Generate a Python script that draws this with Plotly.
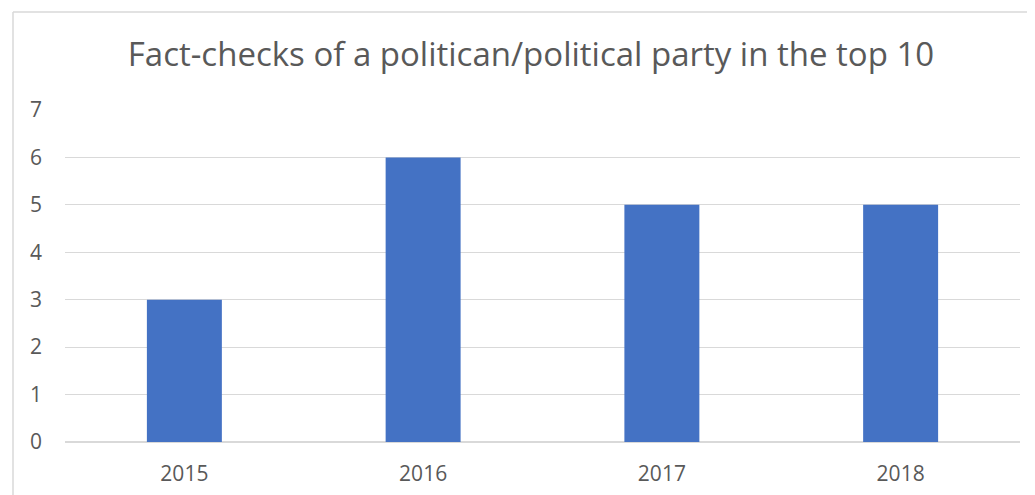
import plotly.graph_objects as go

years = ["2015", "2016", "2017", "2018"]
counts = [3, 6, 5, 5]
title_text = "Fact-checks of a politican/political party in the top 10"

fig = go.Figure(go.Bar(x=years, y=counts, marker=dict(color="#4472C4", line=dict(width=0))))

L, T, W, H = 57, 102, 955, 332
fig.update_layout(
    width=1035, height=495,
    margin=dict(l=L, r=1035 - L - W, t=T, b=495 - T - H, autoexpand=False),
    paper_bgcolor="white", plot_bgcolor="white",
    bargap=0.686,
    showlegend=False,
    title=dict(text=title_text, x=523/1035, xanchor="center", y=1-46/495, yanchor="middle",
               font=dict(family="Open Sans", size=33, color="#595959")),
    font=dict(family="Open Sans", color="#595959"),
    xaxis=dict(showgrid=False, zeroline=False, showline=False, ticks="",
               tickfont=dict(size=21, color="#595959"), ticklabelstandoff=17),
    yaxis=dict(range=[0, 7], dtick=1, showgrid=True, gridcolor="#d9d9d9", gridwidth=1.3,
               zeroline=True, zerolinecolor="#d9d9d9", zerolinewidth=2, showline=False,
               ticks="", tickfont=dict(size=21, color="#595959"), ticklabelstandoff=22),
    shapes=[dict(type="line", xref="paper", yref="paper", x0=(5-L)/W, x1=(5-L)/W,
                 y0=(T+H-4)/H, y1=-0.3, line=dict(color="#d9d9d9", width=1.5)),
            dict(type="line", xref="paper", yref="paper", x0=(5-L)/W, x1=1.1,
                 y0=(T+H-4)/H, y1=(T+H-4)/H, line=dict(color="#d9d9d9", width=1.5))],
)

fig.write_html("out.html")
